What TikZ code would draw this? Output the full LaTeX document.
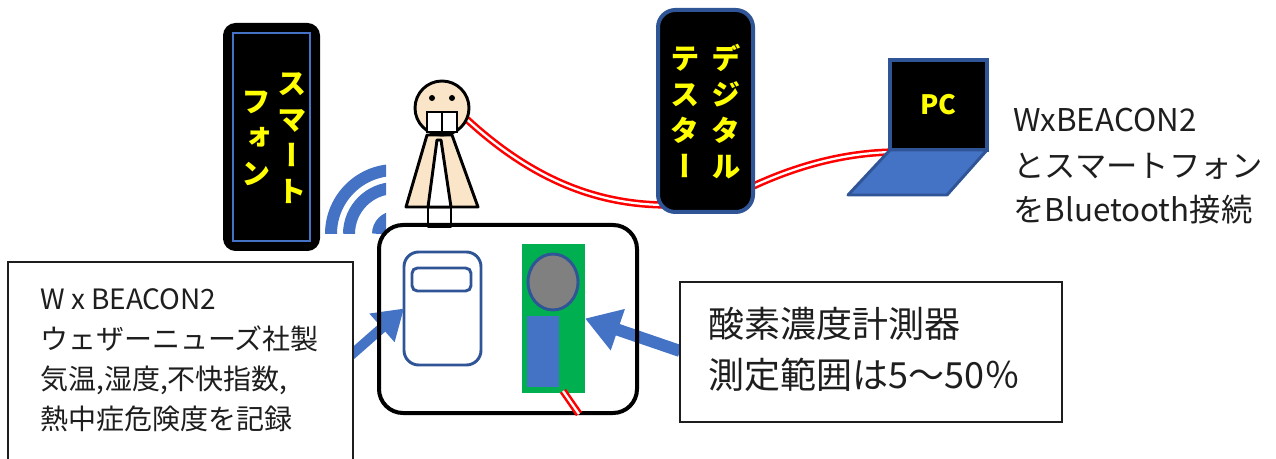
\documentclass[tikz,border=0pt]{standalone}
\usepackage{fontspec}
\setmainfont{Noto Sans CJK JP}
\newfontfamily\jpvert[RawFeature=+vert]{Noto Sans CJK JP}
\usetikzlibrary{arrows.meta}
\definecolor{bluefill}{HTML}{4472C4}
\definecolor{blueline}{HTML}{2F5597}
\definecolor{boardgreen}{HTML}{00B050}
\definecolor{skin}{HTML}{FBE5C8}
\definecolor{ink}{HTML}{1E1E1E}
\definecolor{signyellow}{HTML}{FFFF00}

\begin{document}
\begin{tikzpicture}[x=0.75pt,y=-0.75pt,
  wire/.style={draw=red, line width=1.9pt, double=white, double distance=1.7pt},
  vlabel/.style={text=signyellow, font=\jpvert\bfseries\fontsize{22}{27}\selectfont,
                 align=center, inner sep=0pt},
  callout/.style={draw=ink, fill=white, line width=1.5pt},
  calltext/.style={text=ink, anchor=base west, inner sep=0pt},
  outline/.style={draw=black, line width=2.2pt, line join=round},
  pointer/.style={draw=bluefill, line width=#1}
]
\useasboundingbox (0,0) rectangle (1276,459);

% ---- cables: head -> tester -> laptop
\coordinate (cableA) at (455,108);
\coordinate (cableB) at (668,205);
\coordinate (cableC) at (745,190);
\coordinate (cableD) at (893,152);
\draw[wire] (cableA) .. controls (530,182) and (600,205) .. (cableB);
\draw[wire] (cableC) .. controls (790,168) and (840,153) .. (cableD);

% ---- wireless signal
\begin{scope}
  \clip (300,140) rectangle (386,234);
  \draw[bluefill, line width=9pt]    (331,234)   arc[start angle=180, end angle=270, radius=64];
  \draw[bluefill, line width=9pt]    (349,234)   arc[start angle=180, end angle=270, radius=46];
  \draw[bluefill, line width=9.75pt] (378.5,234) arc[start angle=180, end angle=270, radius=16.5];
\end{scope}

% ---- smartphone
\node[draw=black, fill=black, line width=3pt, rounded corners=8pt,
      minimum width=69.75pt, minimum height=168pt, inner sep=0pt] (phone) at (271.5,137) {};
\node[draw=bluefill, line width=1.5pt, minimum width=57.75pt, minimum height=156pt,
      inner sep=0pt] (phonescreen) at (271.5,137) {};
\node[vlabel] (phoneR) at (292,138) {ス\\マ\\ー\\ト};
\node[vlabel] (phoneL) at (256,138) {フ\\ォ\\ン};

% ---- digital tester
\node[draw=blueline, fill=black, line width=3pt, rounded corners=13pt,
      minimum width=71.25pt, minimum height=151.5pt, inner sep=0pt] (tester) at (705.5,111) {};
\node[vlabel] (testerR) at (726,112) {デ\\ジ\\タ\\ル};
\node[vlabel] (testerL) at (685,112) {テ\\ス\\タ\\ー};

% ---- laptop
\node[draw=blueline, fill=black, line width=3pt, minimum width=72.75pt, minimum height=67.5pt,
      inner sep=0pt, text=signyellow, font=\bfseries\fontsize{20}{24}\selectfont] (pc) at (938.5,105) {PC};
\draw[draw=blueline, fill=bluefill, line width=2.2pt, line join=round]
  (890,150) -- (987,150) -- (947,195) -- (848,195) -- cycle;

% ---- person
\draw[outline, fill=white] (428,205) rectangle (451,227);
\draw[outline, fill=skin] (427,135) -- (452,135) -- (478,207) -- (406,207) -- cycle;
\draw[outline, fill=white] (437,140) -- (441,140) -- (451,207) -- (428,207) -- cycle;
\node[circle, draw=black, fill=skin, line width=2.2pt, minimum size=40.5pt, inner sep=0pt] (head) at (442,108) {};
\begin{scope}
  \clip (442,108) circle [radius=27];
  \fill[black] (420,130) rectangle (465,140);
\end{scope}
\draw[fill=white, line width=1.5pt] (427,112) rectangle (457,132);
\draw[line width=1.5pt] (442,112) -- (442,132);
\fill[black] (432,98) circle [radius=3];
\fill[black] (452,98) circle [radius=3];

% ---- sensors inside the case
\node[draw=blueline, line width=2.2pt, rounded corners=11pt, minimum width=57.75pt,
      minimum height=84.75pt, inner sep=0pt, outer sep=0pt] (beacon) at (442.5,308.5) {};
\node[draw=blueline, line width=2.2pt, rounded corners=4pt, minimum width=44.25pt,
      minimum height=17.25pt, inner sep=0pt] (beacondisplay) at (441.5,279.5) {};
\node[fill=boardgreen, minimum width=47.25pt, minimum height=111.75pt, inner sep=0pt,
      outer sep=0pt] (board) at (553.5,318.5) {};
\draw[draw=blueline, fill=gray, line width=2.2pt] (553,282) ellipse [x radius=25, y radius=28];
\fill[bluefill] (527,316) rectangle (559,387);

% ---- pointers from the notes
\coordinate (beaconnote) at (350,356);
\coordinate (o2note) at (680,351);
\draw[pointer=7.5pt, -{Triangle[length=22pt, width=27pt]}] (beaconnote) -- (beacon.west);
\draw[pointer=9pt, -{Triangle[length=26pt, width=31pt]}] (o2note) -- (board.east);

% ---- case
\node[draw=black, line width=3pt, rounded corners=18pt, minimum width=193.5pt,
      minimum height=141pt, inner sep=0pt] (case) at (508,319) {};
\draw[wire] (563,391) -- (579,414);

% ---- notes
\draw[callout] (8,262) rectangle (353,470);
\node[calltext, font=\fontsize{21}{30}\selectfont] (note1a) at (40,310) {W x BEACON2};
\node[calltext, font=\fontsize{21}{30}\selectfont] (note1b) at (40,349) {ウェザーニューズ社製};
\node[calltext, font=\fontsize{21}{30}\selectfont] (note1c) at (40,389) {気温,湿度,不快指数,};
\node[calltext, font=\fontsize{21}{30}\selectfont] (note1d) at (40,429) {熱中症危険度を記録};

\draw[callout] (680,282) rectangle (1062,422);
\node[calltext, font=\fontsize{27}{36}\selectfont] (note2a) at (708,337) {酸素濃度計測器};
\node[calltext, font=\fontsize{27}{36}\selectfont] (note2b) at (708,388) {測定範囲は5～50％};

\node[calltext, font=\fontsize{23.5}{32}\selectfont] (info1) at (1013,132) {WxBEACON2};
\node[calltext, font=\fontsize{23.5}{32}\selectfont] (info2) at (1013,178) {とスマートフォン};
\node[calltext, font=\fontsize{23.5}{32}\selectfont] (info3) at (1013,222) {をBluetooth接続};
\end{tikzpicture}
\end{document}
